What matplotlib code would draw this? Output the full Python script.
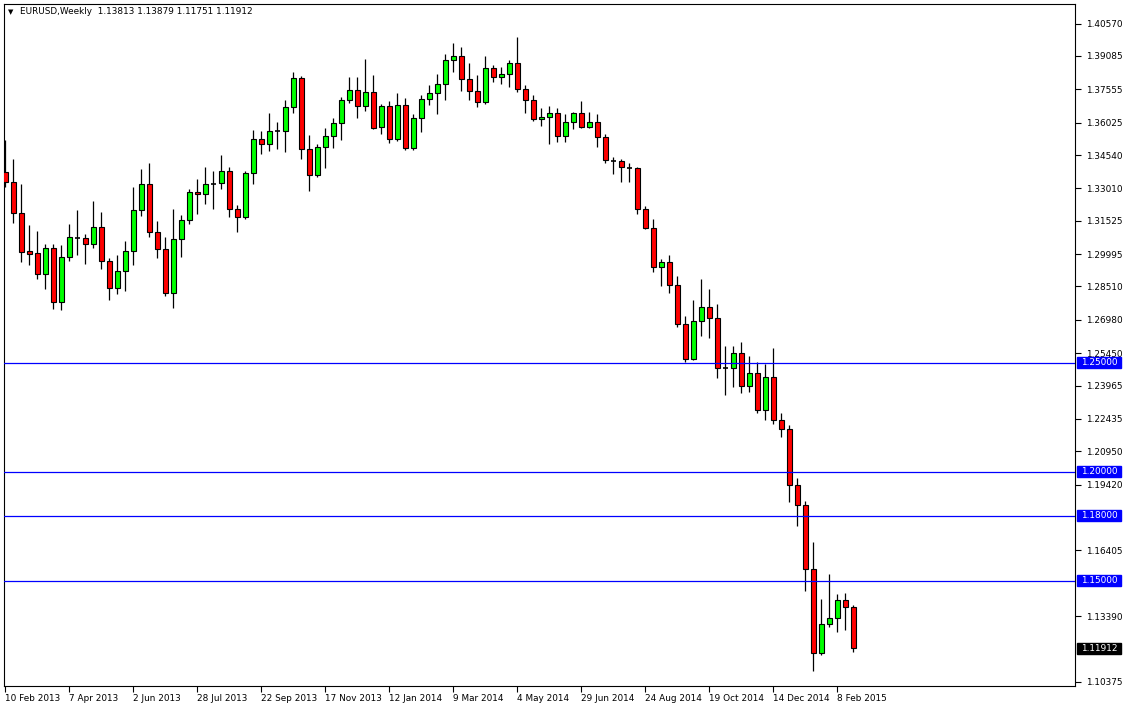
import matplotlib
matplotlib.use("Agg")
import matplotlib.pyplot as plt
import matplotlib.transforms as mtransforms
from matplotlib.patches import Rectangle
import numpy as np

# ---- data (EURUSD weekly candles) ----
date_labels = ["10 Feb 2013", "7 Apr 2013", "2 Jun 2013", "28 Jul 2013", "22 Sep 2013",
               "17 Nov 2013", "12 Jan 2014", "9 Mar 2014", "4 May 2014", "29 Jun 2014",
               "24 Aug 2014", "19 Oct 2014", "14 Dec 2014", "8 Feb 2015"]

opens = [
    1.3375, 1.3329, 1.3187, 1.3012, 1.3003, 1.2907, 1.3026, 1.2778, 1.2985, 1.3075,
    1.3072, 1.3045, 1.3122, 1.2967, 1.2843, 1.2921, 1.3012, 1.3200, 1.3321, 1.3100,
    1.3022, 1.2820, 1.3067, 1.3155, 1.3283, 1.3274, 1.3322, 1.3324, 1.3379, 1.3205,
    1.3168, 1.3370, 1.3526, 1.3503, 1.3564, 1.3564, 1.3673, 1.3806, 1.3480, 1.3361,
    1.3489, 1.3540, 1.3601, 1.3705, 1.3751, 1.3679, 1.3743, 1.3581, 1.3678, 1.3526,
    1.3682, 1.3485, 1.3623, 1.3710, 1.3737, 1.3780, 1.3889, 1.3907, 1.3801, 1.3746,
    1.3696, 1.3852, 1.3811, 1.3824, 1.3875, 1.3755, 1.3705, 1.3618, 1.3627, 1.3645,
    1.3540, 1.3604, 1.3645, 1.3581, 1.3604, 1.3535, 1.3428, 1.3427, 1.3396, 1.3393,
    1.3205, 1.3118, 1.2939, 1.2962, 1.2856, 1.2678, 1.2517, 1.2691, 1.2756, 1.2705,
    1.2479, 1.2479, 1.2545, 1.2393, 1.2453, 1.2283, 1.2434, 1.2237, 1.2196, 1.1939,
    1.1847, 1.1554, 1.1168, 1.1301, 1.1329, 1.1411, 1.13813]

highs = [
    1.3523, 1.3436, 1.3321, 1.3133, 1.3106, 1.3045, 1.3045, 1.3040, 1.3136, 1.3200,
    1.3090, 1.3243, 1.3193, 1.2982, 1.2994, 1.3058, 1.3307, 1.3390, 1.3417, 1.3151,
    1.3077, 1.3205, 1.3179, 1.3297, 1.3345, 1.3399, 1.3381, 1.3454, 1.3398, 1.3223,
    1.3379, 1.3569, 1.3564, 1.3647, 1.3606, 1.3705, 1.3833, 1.3817, 1.3545, 1.3503,
    1.3577, 1.3624, 1.3722, 1.3811, 1.3811, 1.3895, 1.3821, 1.3688, 1.3702, 1.3739,
    1.3714, 1.3642, 1.3728, 1.3774, 1.3826, 1.3917, 1.3967, 1.3950, 1.3876, 1.3821,
    1.3907, 1.3867, 1.3856, 1.3890, 1.3995, 1.3774, 1.3728, 1.3668, 1.3678, 1.3668,
    1.3641, 1.3650, 1.3700, 1.3650, 1.3641, 1.3550, 1.3444, 1.3434, 1.3416, 1.3398,
    1.3218, 1.3159, 1.2977, 1.2994, 1.2898, 1.2714, 1.2788, 1.2884, 1.2838, 1.2769,
    1.2577, 1.2577, 1.2595, 1.2531, 1.2503, 1.2494, 1.2569, 1.2269, 1.2217, 1.1971,
    1.1866, 1.1679, 1.1417, 1.1531, 1.1439, 1.1444, 1.13879]

lows = [
    1.3306, 1.3144, 1.2965, 1.2951, 1.2884, 1.2841, 1.2746, 1.2742, 1.2967, 1.2997,
    1.2953, 1.3026, 1.2933, 1.2790, 1.2818, 1.2830, 1.2951, 1.3176, 1.3079, 1.2983,
    1.2807, 1.2751, 1.2988, 1.3138, 1.3182, 1.3231, 1.3205, 1.3297, 1.3171, 1.3102,
    1.3162, 1.3322, 1.3459, 1.3474, 1.3483, 1.3469, 1.3648, 1.3437, 1.3290, 1.3355,
    1.3396, 1.3488, 1.3522, 1.3694, 1.3623, 1.3655, 1.3572, 1.3549, 1.3508, 1.3517,
    1.3476, 1.3476, 1.3561, 1.3682, 1.3641, 1.3705, 1.3833, 1.3746, 1.3705, 1.3673,
    1.3690, 1.3788, 1.3781, 1.3765, 1.3742, 1.3645, 1.3609, 1.3585, 1.3503, 1.3512,
    1.3512, 1.3572, 1.3578, 1.3577, 1.3489, 1.3419, 1.3366, 1.3332, 1.3332, 1.3182,
    1.3115, 1.2916, 1.2855, 1.2822, 1.2664, 1.2503, 1.2512, 1.2622, 1.2613, 1.2430,
    1.2352, 1.2391, 1.2361, 1.2369, 1.2269, 1.2237, 1.2219, 1.2159, 1.1861, 1.1750,
    1.1453, 1.1089, 1.1160, 1.1288, 1.1265, 1.1274, 1.11751]

closes = [
    1.3329, 1.3187, 1.3011, 1.3001, 1.2907, 1.3026, 1.2778, 1.2985, 1.3077, 1.3075,
    1.3045, 1.3122, 1.2967, 1.2843, 1.2921, 1.3012, 1.3200, 1.3321, 1.3100, 1.3022,
    1.2820, 1.3067, 1.3156, 1.3283, 1.3274, 1.3320, 1.3322, 1.3379, 1.3205, 1.3168,
    1.3370, 1.3526, 1.3503, 1.3564, 1.3564, 1.3674, 1.3806, 1.3480, 1.3361, 1.3489,
    1.3540, 1.3601, 1.3705, 1.3751, 1.3679, 1.3743, 1.3577, 1.3678, 1.3526, 1.3682,
    1.3485, 1.3623, 1.3710, 1.3737, 1.3780, 1.3889, 1.3907, 1.3801, 1.3746, 1.3696,
    1.3852, 1.3811, 1.3824, 1.3875, 1.3755, 1.3705, 1.3618, 1.3627, 1.3645, 1.3540,
    1.3604, 1.3645, 1.3581, 1.3604, 1.3535, 1.3430, 1.3428, 1.3398, 1.3396, 1.3205,
    1.3118, 1.2939, 1.2962, 1.2856, 1.2678, 1.2517, 1.2691, 1.2756, 1.2705, 1.2479,
    1.2479, 1.2545, 1.2393, 1.2453, 1.2283, 1.2434, 1.2237, 1.2196, 1.1939, 1.1847,
    1.1554, 1.1168, 1.1301, 1.1329, 1.1411, 1.1381, 1.11912]

price_ticks = [1.40570, 1.39085, 1.37555, 1.36025, 1.34540, 1.33010, 1.31525, 1.29995,
               1.28510, 1.26980, 1.25450, 1.23965, 1.22435, 1.20950, 1.19420, 1.16405,
               1.13390, 1.10375]
level_lines = [1.25, 1.20, 1.18, 1.15]
last_price = 1.11912
header = "EURUSD,Weekly  1.13813 1.13879 1.11751 1.11912"

# ---- figure ----
W, H = 1123, 706
FS = 6.4
fig = plt.figure(figsize=(W / 100, H / 100), dpi=100)
fig.patch.set_facecolor("white")
ax_px = (4, 20, 1071, 682)  # left, bottom, width, height in pixels
ax = fig.add_axes([ax_px[0] / W, ax_px[1] / H, ax_px[2] / W, ax_px[3] / H])
ax.set_facecolor("white")

o = np.array(opens); h = np.array(highs); l = np.array(lows); c = np.array(closes)
x = np.arange(len(o))

ax.vlines(x, l, h, color="black", linewidth=0.9, zorder=2)
up = c > o
dn = c < o
eq = c == o
bw = 0.56
ax.bar(x[up], (c - o)[up], bottom=o[up], width=bw, color="#00FF00",
       edgecolor="black", linewidth=0.8, zorder=3)
ax.bar(x[dn], (o - c)[dn], bottom=c[dn], width=bw, color="#FF0000",
       edgecolor="black", linewidth=0.8, zorder=3)
ax.hlines(o[eq], x[eq] - bw / 2, x[eq] + bw / 2, color="black", linewidth=1.2, zorder=3)

for lv in level_lines:
    ax.axhline(lv, color="#0000FF", linewidth=0.9, zorder=4)

ylo, yhi = 1.10183, 1.41468
ax.set_xlim(-0.16, 133.7)
ax.set_ylim(ylo, yhi)

# y axis on right
ax.yaxis.tick_right()
ax.set_yticks(price_ticks)
ax.set_yticklabels([f"{v:.5f}" for v in price_ticks])
ax.tick_params(axis="y", direction="out", length=4, width=0.8, pad=4,
               labelsize=FS, colors="black")

# x axis
xt = list(range(0, 8 * len(date_labels), 8))
ax.set_xticks(xt)
ax.set_xticklabels(date_labels)
ax.tick_params(axis="x", direction="out", length=4, width=0.8, pad=2,
               labelsize=FS, colors="black")
for lab in ax.get_xticklabels():
    lab.set_horizontalalignment("left")

for sp in ax.spines.values():
    sp.set_color("black")
    sp.set_linewidth(0.8)

# price boxes on right axis
trans = mtransforms.blended_transform_factory(ax.transAxes, ax.transData)
box_x0 = 1 + 2 / ax_px[2]
box_w = 44 / ax_px[2]
box_h = 11 * (yhi - ylo) / ax_px[3]


def price_box(val, color):
    ax.add_patch(Rectangle((box_x0, val - box_h / 2), box_w, box_h, transform=trans,
                           facecolor=color, edgecolor=color, clip_on=False, zorder=5))
    ax.text(box_x0 + box_w / 2, val, f"{val:.5f}", transform=trans, ha="center",
            va="center", color="white", fontsize=FS, clip_on=False, zorder=6)


for lv in level_lines:
    price_box(lv, "#0000FF")
price_box(last_price, "black")

# header
fig.text(8 / W, 1 - 12 / H, "\u25BC", fontsize=5, va="center", ha="left", color="black")
fig.text(20 / W, 1 - 12 / H, header, fontsize=FS, va="center", ha="left", color="black")

fig.savefig("out.png", dpi=100, facecolor="white")
